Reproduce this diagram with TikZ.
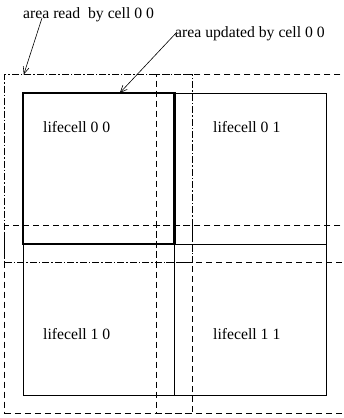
\documentclass[tikz,border=0pt]{standalone}
\usepackage{fontspec}
\setmainfont{Liberation Serif}
\usetikzlibrary{arrows.meta}

\tikzset{
  lbl/.style={anchor=base west, inner sep=0pt, font=\fontsize{15.7}{19}\selectfont},
  cellbox/.style={draw, line width=0.9pt, inner sep=0pt, outer sep=0pt},
  readbox/.style={draw, line width=0.8pt, dash pattern=on 6pt off 4pt, inner sep=0pt, outer sep=0pt},
  readbox00/.style={readbox, dash pattern=on 7pt off 2pt on 1.5pt off 2pt},
  updbox/.style={line width=2.4pt},
  pointer/.style={line width=0.6pt, -{Straight Barb[length=7pt,width=6pt]}}
}

\begin{document}
\begin{tikzpicture}[x=1pt,y=-1pt]
  \useasboundingbox (0,0) rectangle (344,418);
  \def\cw{151.5};
  \def\ch{151};
  \def\rs{188};
  \foreach \i in {0,1} {   %for each row of cells
    \foreach \j in {0,1} {   %for each cell in the row
      \node[cellbox, minimum width=\cw pt, minimum height=\ch pt] (cell\i\j)
        at ({23+(\j+0.5)*\cw},{93+(\i+0.5)*\ch}) {};
    }
  }
  \foreach \i/\j/\tx/\ty in {0/0/43/132, 0/1/213/132, 1/0/43/339, 1/1/213/339} {  %the cell names
    \node[lbl] (txt\i\j) at (\tx,\ty) {lifecell \i\ \j};
  }
  \foreach \c in {01,10,11} {  %area read by the other cells
    \node[readbox, minimum size=\rs pt] (read\c) at (cell\c.center) {};
  }
  \node[readbox00, minimum size=\rs pt] (read00) at (cell00.center) {};
  \draw[updbox] (cell00.north west) rectangle (cell00.south east);

  \node[lbl] (readlbl) at (23,18) {area read\ \ by cell 0 0};
  \node[lbl] (updlbl) at (175,37) {area updated by cell 0 0};
  \draw[pointer] ([xshift=19pt]readlbl.base west) -- ([xshift=19pt]read00.north west);
  \draw[pointer] ([xshift=2pt,yshift=5pt]updlbl.base west) -- ([xshift=21pt]cell00.north);
\end{tikzpicture}
\end{document}
